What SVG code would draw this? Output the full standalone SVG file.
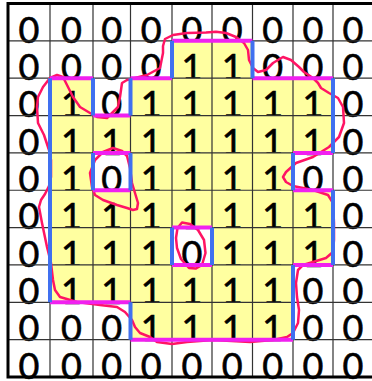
<svg xmlns="http://www.w3.org/2000/svg" width="372" height="381" viewBox="0 0 372 381">
<style>
.y{fill:#FFFFA0}
.t{font-family:Lato,"DejaVu Sans",sans-serif;font-size:36px;fill:#000;stroke:#000;stroke-width:0.6;text-anchor:middle}
.g{stroke:#333;stroke-width:1.2;fill:none}
.b{stroke:#000;stroke-width:3;fill:none}
.bl{stroke:#4070F0;stroke-width:4;fill:none}
.mg{stroke:#F020F0;stroke-width:4;fill:none}
.rd{stroke:#FF1464;stroke-width:2.5;fill:none;stroke-linejoin:round;stroke-linecap:round}
</style>
<rect width="372" height="381" fill="#fff"/>
<g id="cells">
<g id="r0"><text class="t" x="29" y="42.5">0</text><text class="t" x="71.5" y="42.5">0</text><text class="t" x="111.75" y="42.5">0</text><text class="t" x="151.25" y="42.5">0</text><text class="t" x="192" y="42.5">0</text><text class="t" x="232.25" y="42.5">0</text><text class="t" x="272.75" y="42.5">0</text><text class="t" x="313" y="42.5">0</text><text class="t" x="353" y="42.5">0</text></g>
<g id="r1"><rect class="y" x="172" y="40.85" width="80.5" height="37.35"/><text class="t" x="29" y="79.85">0</text><text class="t" x="71.5" y="79.85">0</text><text class="t" x="111.75" y="79.85">0</text><text class="t" x="151.25" y="79.85">0</text><text class="t" x="192" y="79.85">1</text><text class="t" x="232.25" y="79.85">1</text><text class="t" x="272.75" y="79.85">0</text><text class="t" x="313" y="79.85">0</text><text class="t" x="353" y="79.85">0</text></g>
<g id="r2"><rect class="y" x="50" y="78.2" width="43" height="37.35"/><rect class="y" x="130.5" y="78.2" width="202.5" height="37.35"/><text class="t" x="29" y="117.2">0</text><text class="t" x="71.5" y="117.2">1</text><text class="t" x="111.75" y="117.2">0</text><text class="t" x="151.25" y="117.2">1</text><text class="t" x="192" y="117.2">1</text><text class="t" x="232.25" y="117.2">1</text><text class="t" x="272.75" y="117.2">1</text><text class="t" x="313" y="117.2">1</text><text class="t" x="353" y="117.2">0</text></g>
<g id="r3"><rect class="y" x="50" y="115.55" width="283" height="37.35"/><text class="t" x="29" y="154.55">0</text><text class="t" x="71.5" y="154.55">1</text><text class="t" x="111.75" y="154.55">1</text><text class="t" x="151.25" y="154.55">1</text><text class="t" x="192" y="154.55">1</text><text class="t" x="232.25" y="154.55">1</text><text class="t" x="272.75" y="154.55">1</text><text class="t" x="313" y="154.55">1</text><text class="t" x="353" y="154.55">0</text></g>
<g id="r4"><rect class="y" x="50" y="152.9" width="43" height="37.35"/><rect class="y" x="130.5" y="152.9" width="162.5" height="37.35"/><text class="t" x="29" y="191.9">0</text><text class="t" x="71.5" y="191.9">1</text><text class="t" x="111.75" y="191.9">0</text><text class="t" x="151.25" y="191.9">1</text><text class="t" x="192" y="191.9">1</text><text class="t" x="232.25" y="191.9">1</text><text class="t" x="272.75" y="191.9">1</text><text class="t" x="313" y="191.9">0</text><text class="t" x="353" y="191.9">0</text></g>
<g id="r5"><rect class="y" x="50" y="190.25" width="283" height="37.35"/><text class="t" x="29" y="229.25">0</text><text class="t" x="71.5" y="229.25">1</text><text class="t" x="111.75" y="229.25">1</text><text class="t" x="151.25" y="229.25">1</text><text class="t" x="192" y="229.25">1</text><text class="t" x="232.25" y="229.25">1</text><text class="t" x="272.75" y="229.25">1</text><text class="t" x="313" y="229.25">1</text><text class="t" x="353" y="229.25">0</text></g>
<g id="r6"><rect class="y" x="50" y="227.6" width="122" height="37.35"/><rect class="y" x="212" y="227.6" width="121" height="37.35"/><text class="t" x="29" y="266.6">0</text><text class="t" x="71.5" y="266.6">1</text><text class="t" x="111.75" y="266.6">1</text><text class="t" x="151.25" y="266.6">1</text><text class="t" x="192" y="266.6">0</text><text class="t" x="232.25" y="266.6">1</text><text class="t" x="272.75" y="266.6">1</text><text class="t" x="313" y="266.6">1</text><text class="t" x="353" y="266.6">0</text></g>
<g id="r7"><rect class="y" x="50" y="264.95" width="243" height="37.35"/><text class="t" x="29" y="303.95">0</text><text class="t" x="71.5" y="303.95">1</text><text class="t" x="111.75" y="303.95">1</text><text class="t" x="151.25" y="303.95">1</text><text class="t" x="192" y="303.95">1</text><text class="t" x="232.25" y="303.95">1</text><text class="t" x="272.75" y="303.95">1</text><text class="t" x="313" y="303.95">0</text><text class="t" x="353" y="303.95">0</text></g>
<g id="r8"><rect class="y" x="130.5" y="302.3" width="162.5" height="37.35"/><text class="t" x="29" y="341.3">0</text><text class="t" x="71.5" y="341.3">0</text><text class="t" x="111.75" y="341.3">0</text><text class="t" x="151.25" y="341.3">1</text><text class="t" x="192" y="341.3">1</text><text class="t" x="232.25" y="341.3">1</text><text class="t" x="272.75" y="341.3">1</text><text class="t" x="313" y="341.3">0</text><text class="t" x="353" y="341.3">0</text></g>
<g id="r9"><text class="t" x="29" y="378.6">0</text><text class="t" x="71.5" y="378.6">0</text><text class="t" x="111.75" y="378.6">0</text><text class="t" x="151.25" y="378.6">0</text><text class="t" x="192" y="378.6">0</text><text class="t" x="232.25" y="378.6">0</text><text class="t" x="272.75" y="378.6">0</text><text class="t" x="313" y="378.6">0</text><text class="t" x="353" y="378.6">0</text></g>
</g>
<g id="grid">
<path class="g" d="M50,3.5V377M93,3.5V377M130.5,3.5V377M172,3.5V377M212,3.5V377M252.5,3.5V377M293,3.5V377M333,3.5V377M8,40.85H372M8,78.2H372M8,115.55H372M8,152.9H372M8,190.25H372M8,227.6H372M8,264.95H372M8,302.3H372M8,339.65H372"/>
<path class="b" d="M8,3.5H372M8,2V378.5M8,377H372"/>
</g>
<g id="connectors">
<path class="rd" d="M163,46 L165,39 173,35 187,33 206,32.5 216,31.7 226,33 236,37 244,43 248,50 249,60 253,68 258,72 266,70 273,63 283,57 291,60 299,67 304,72 313,78 318,83 321,88 329,93 338,98 343,107 344,123 339,137 329,147 313,157 296,163 286,172 283,177 286,182 293,186 303,188 313,190 319,192 328,195 333,203 334,223 334,240 333,252 326,258 313,262 303,265 298,270 296,283 297,297 299,310 298,323 293,333 287,337 273,340 250,342 213,340 187,342 172,344 157,342 150,337 140,333 135,327 132,320 125,312 117,307 100,305 77,302 60,297 55,290 53,280 51,263 47,247 42,223 39,207 41,200 45,194 49,186 51,177 51,160 49,150 44,135 38,123 37,107 38,97 43,87 50,78 57,75 63,77 68,87 73,97 80,107 90,113 97,117 107,118 113,112 118,107 120,97 122,83 127,80 147,75 160,68 163,53 Z"/>
<path class="rd" d="M92,187 L90,173 95,160 103,152 113,148 122,151 127,156 130,168 132,183 135,193 138,203 137,209 133,210 127,208 117,205 103,200 95,195 Z"/>
<path class="rd" d="M182,222.5 L190,224 198,230 204,240 205.5,253 202,265 196,268.5 189,268 181,259 177,248 176,238 177.5,228 Z"/>
<path class="mg" d="M172,40.85H252.5M252.5,78.2H333M50,78.2H93M130.5,78.2H172M93,115.55H130.5M293,152.9H333M93,152.9H130.5M293,190.25H333M93,190.25H130.5M172,227.6H212M293,264.95H333M172,264.95H212M50,302.3H130.5M130.5,339.65H293"/>
<path class="bl" d="M172,40.85V78.2M252.5,40.85V78.2M93,78.2V115.55M130.5,78.2V115.55M333,78.2V152.9M293,152.9V190.25M333,190.25V264.95M293,264.95V339.65M130.5,302.3V339.65M50,78.2V302.3M93,152.9V190.25M130.5,152.9V190.25M172,227.6V264.95M212,227.6V264.95"/>
</g>
</svg>
